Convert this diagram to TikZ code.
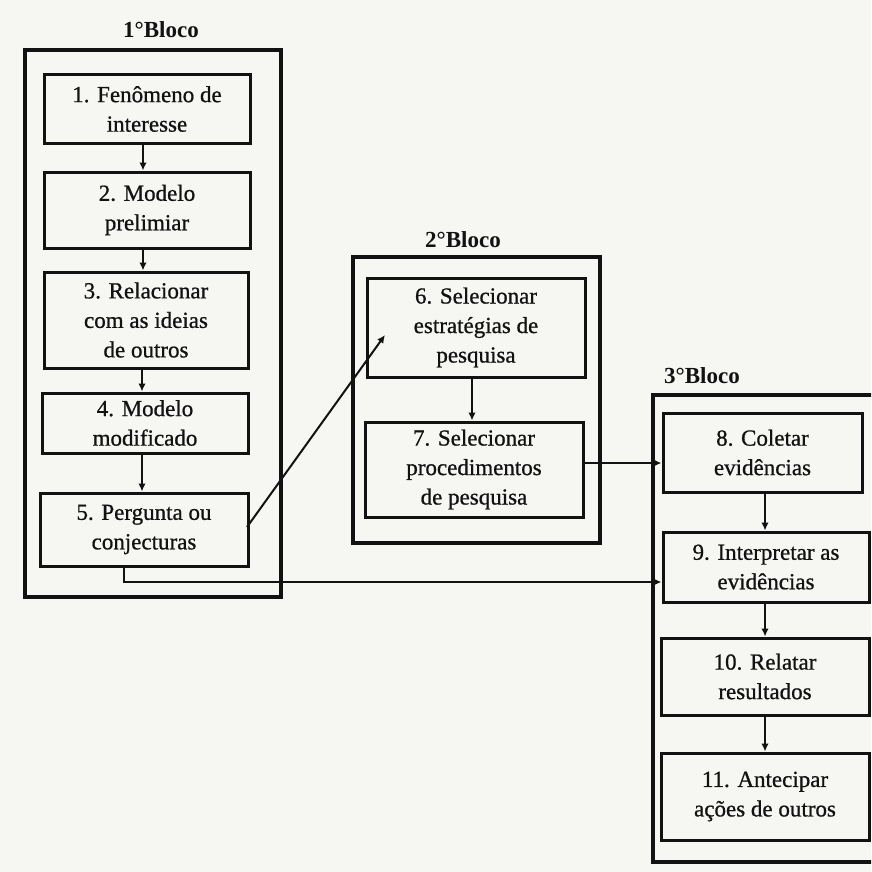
\documentclass[tikz,border=0pt]{standalone}
\usepackage{fontspec}
\setmainfont{Liberation Serif}
\newfontfamily\boxfont[FakeBold=0.8]{Liberation Serif}
\usetikzlibrary{arrows.meta}
\definecolor{paper}{RGB}{246,246,243}
\definecolor{ink}{RGB}{18,18,18}
\tikzset{
  x=1pt, y=-1pt,
  block/.style={draw=ink, line width=3.2pt},
  stepbox/.style={draw=ink, line width=3pt, inner sep=0pt, align=center, text=ink,
    font=\boxfont\fontsize{23}{29.5}\selectfont},
  title/.style={font=\fontsize{23}{28}\selectfont\bfseries, text=ink},
  arr/.style={draw=ink, line width=2pt, -{Latex[length=8pt,width=7.5pt]}},
}
% box from its corners: #1 name, #2 x0, #3 y0, #4 x1, #5 y1, #6 text
\newcommand{\stepnode}[6]{%
  \pgfmathsetmacro{\bw}{#4-#2}\pgfmathsetmacro{\bh}{#5-#3}%
  \node[stepbox, minimum width=\bw pt, minimum height=\bh pt] (#1)
    at ({(#2+#4)/2},{(#3+#5)/2}) {#6};}
\begin{document}
\begin{tikzpicture}
\useasboundingbox (0,0) rectangle (871,872);
\fill[paper] (0,0) rectangle (871,872);
\clip (0,0) rectangle (871,872);

% outer blocks
\draw[block] (25,50) rectangle (281,597);
\draw[block] (353,257) rectangle (600,543);
\draw[block] (653,395) rectangle (900,862);
\node[title] (t1) at (161,30) {1°Bloco};
\node[title] (t2) at (463,240) {2°Bloco};
\node[title] (t3) at (702,376) {3°Bloco};

% block 1
\stepnode{b1}{44}{75}{250}{143}{1. Fenômeno de\\interesse}
\stepnode{b2}{44}{172}{250}{248}{2. Modelo\\prelimiar}
\stepnode{b3}{44}{272}{248}{368}{3. Relacionar\\com as ideias\\de outros}
\stepnode{b4}{42}{393}{248}{453}{4. Modelo\\modificado}
\stepnode{b5}{40}{493}{248}{566}{5. Pergunta ou\\conjecturas}

% block 2
\stepnode{b6}{367}{278}{585}{377}{6. Selecionar\\estratégias de\\pesquisa}
\stepnode{b7}{365}{422}{583}{517}{7. Selecionar\\procedimentos\\de pesquisa}

% block 3
\stepnode{b8}{663}{413}{862}{492}{8. Coletar\\evidências}
\stepnode{b9}{663}{532}{869}{602}{9. Interpretar as\\evidências}
\stepnode{b10}{661}{638}{869}{715}{10. Relatar\\resultados}
\stepnode{b11}{661}{753}{869}{840}{11. Antecipar\\ações de outros}

% guide points for the connectors
\coordinate (c12) at (143,0);
\coordinate (c34) at (142,0);
\coordinate (c67) at (472,0);
\coordinate (c89) at (765,0);
\coordinate (s5) at (247,527);
\coordinate (t6) at (385,335);
\coordinate (h78) at (0,463);
\coordinate (j5) at (124,582);

% vertical steps
\draw[arr] (b1.south -| c12) -- (b2.north -| c12);
\draw[arr] (b2.south -| c12) -- (b3.north -| c12);
\draw[arr] (b3.south -| c34) -- (b4.north -| c34);
\draw[arr] (b4.south -| c34) -- (b5.north -| c34);
\draw[arr] (b6.south -| c67) -- (b7.north -| c67);
\draw[arr] (b8.south -| c89) -- (b9.north -| c89);
\draw[arr] (b9.south -| c89) -- (b10.north -| c89);
\draw[arr] (b10.south -| c89) -- (b11.north -| c89);

% links between blocks
\draw[arr] (s5) -- (t6);
\draw[arr] (b7.east |- h78) -- (b8.west |- h78);
\draw[arr] (b5.south -| j5) -- (j5) -- (b9.west |- j5);
\end{tikzpicture}
\end{document}
